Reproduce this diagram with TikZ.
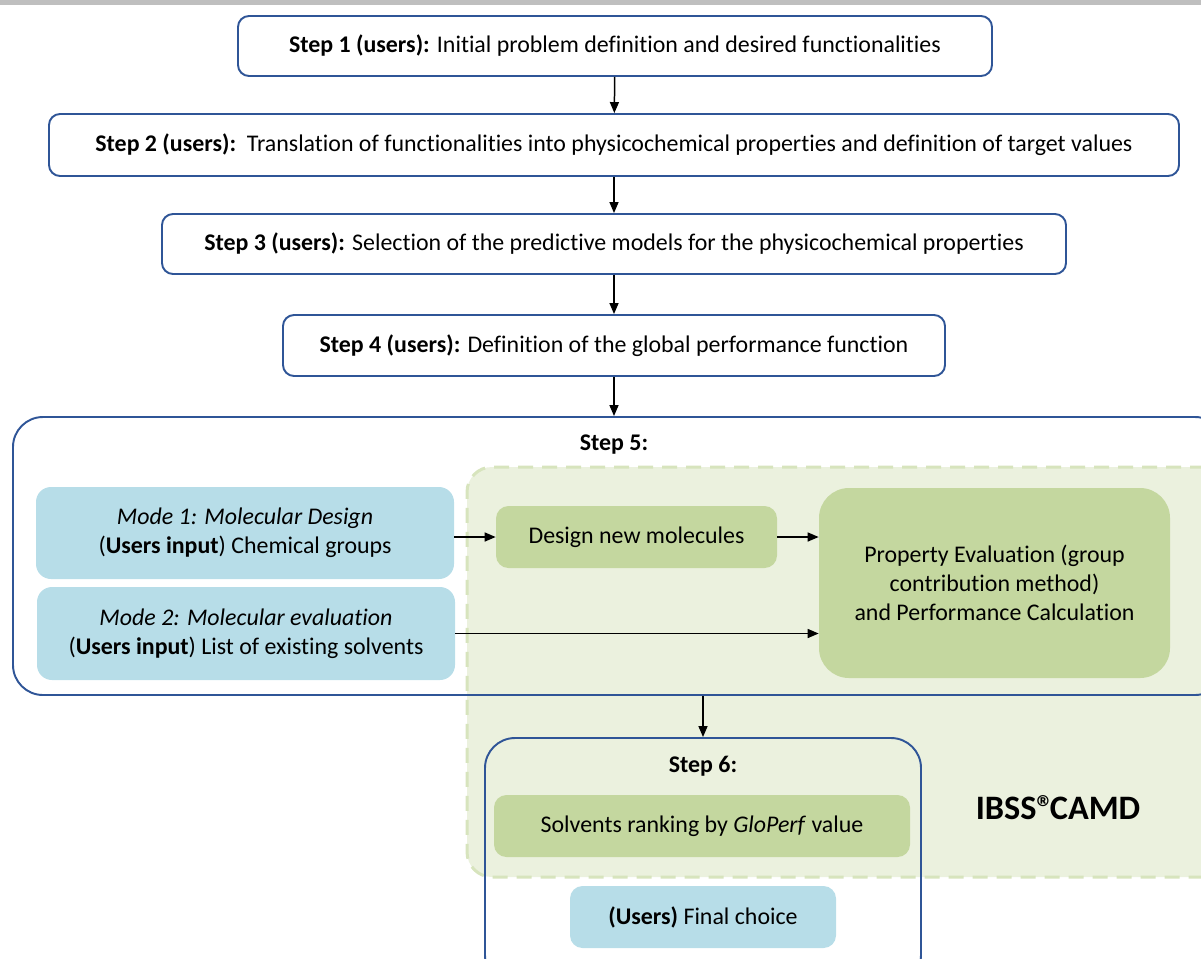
\documentclass[tikz,border=0pt]{standalone}
\usepackage{fontspec}
\setmainfont[Ligatures={NoCommon}]{Carlito}
\usepackage{xcolor}
\usetikzlibrary{arrows.meta,positioning}

\definecolor{stepblue}{HTML}{2F5597}
\definecolor{userblue}{HTML}{B7DDE8}
\definecolor{calcgreen}{HTML}{C4D79F}
\definecolor{camdfill}{HTML}{EBF1DE}
\definecolor{camdedge}{HTML}{D7E4BD}

\begin{document}
\begin{tikzpicture}[every node/.style={font=\fontsize{13.6}{16.5}\selectfont},
  stepbox/.style={draw=stepblue,line width=1.1pt,rounded corners=0.22cm,fill=white,align=center,inner sep=0pt},
  framebox/.style={draw=stepblue,line width=1.1pt,rounded corners=0.6cm,inner sep=0pt},
  userbox/.style={fill=userblue,rounded corners=0.3cm,align=center,inner sep=0pt},
  calcbox/.style={fill=calcgreen,rounded corners=0.25cm,align=center,inner sep=0pt},
  flow/.style={line width=0.85pt,-{Triangle[length=2.2mm,width=1.8mm]}}]
  \clip (0,0) rectangle (24.02,-19.16);
  % grey rule on top
  \fill[black!25] (0,0) rectangle (24.02,-0.09);
  % steps 1 to 4
  \node[stepbox,minimum width=15.08cm,minimum height=1.2cm] (step1) at (12.30,-0.92)
    {\textbf{Step 1 (users):} Initial problem definition and desired functionalities};
  \node[stepbox,minimum width=22.6cm,minimum height=1.24cm] (step2) at (12.28,-2.90)
    {\textbf{Step 2 (users):}\ \ Translation of functionalities into physicochemical properties and definition of target values};
  \node[stepbox,minimum width=18.08cm,minimum height=1.2cm] (step3) at (12.28,-4.88)
    {\textbf{Step 3 (users):} Selection of the predictive models for the physicochemical properties};
  \node[stepbox,minimum width=13.24cm,minimum height=1.22cm] (step4) at (12.28,-6.91)
    {\textbf{Step 4 (users):} Definition of the global performance function};
  % IBSS CAMD area
  \node[fill=camdfill,draw=camdedge,line width=1.7pt,dash pattern=on 0.3cm off 0.18cm,
    rounded corners=0.5cm,minimum width=15.26cm,minimum height=8.2cm] (camd) at (16.97,-13.44) {};
  \node[font=\fontsize{19.5}{22}\selectfont\bfseries] (camdlabel) at (21.16,-16.16)
    {IBSS®\kern-0.12em CAMD};
  % step 5
  \node[framebox,minimum width=24.24cm,minimum height=5.56cm] (step5) at (12.38,-11.12) {};
  \node[font=\fontsize{13.6}{16.5}\selectfont\bfseries] (step5label) at (12.28,-8.90) {Step 5:};
  \node[userbox,minimum width=8.36cm,minimum height=1.84cm] (mode1) at (4.90,-10.66)
    {\textit{Mode 1: Molecular Design}\\(\textbf{Users input}) Chemical groups};
  \node[userbox,minimum width=8.36cm,minimum height=1.86cm] (mode2) at (4.92,-12.67)
    {\textit{Mode 2: Molecular evaluation}\\(\textbf{Users input}) List of existing solvents};
  \node[calcbox,minimum width=5.62cm,minimum height=1.24cm] (design) at (12.73,-10.74)
    {Design new molecules};
  \node[calcbox,rounded corners=0.6cm,minimum width=7.02cm,minimum height=3.8cm] (prop) at (19.89,-11.66)
    {Property Evaluation (group\\contribution method)\\and Performance Calculation};
  % step 6
  \node[framebox,minimum width=8.72cm,minimum height=4.94cm] (step6) at (14.06,-17.23) {};
  \node[font=\fontsize{13.6}{16.5}\selectfont\bfseries] (step6label) at (14.06,-15.32) {Step 6:};
  \node[calcbox,minimum width=8.32cm,minimum height=1.24cm] (rank) at (14.04,-16.52)
    {Solvents ranking by \textit{GloPerf} value};
  \node[userbox,rounded corners=0.25cm,minimum width=5.32cm,minimum height=1.24cm] (choice) at (14.06,-18.34)
    {\textbf{(Users)} Final choice};
  % arrows
  \draw[flow] (step1) -- (step2);
  \draw[flow] (step2) -- (step3);
  \draw[flow] (step3) -- (step4);
  \draw[flow] (step4.south) -- (step4.south |- step5.north);
  \draw[flow] (mode1.east |- design) -- (design);
  \draw[flow] (design) -- (design -| prop.west);
  \draw[flow] (mode2) -- (mode2 -| prop.west);
  \draw[flow] (step5.south -| step6.north) -- (step6.north);
\end{tikzpicture}
\end{document}
